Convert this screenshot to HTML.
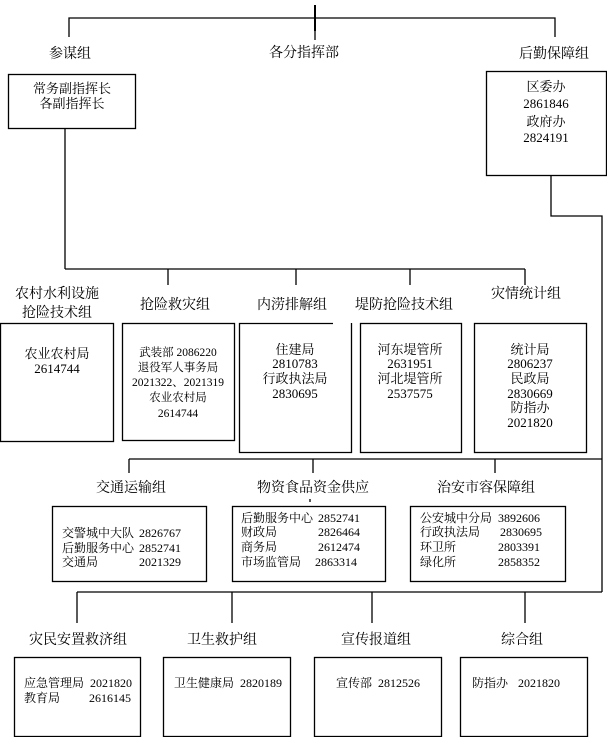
<!DOCTYPE html>
<html><head><meta charset="utf-8"><style>
html,body{margin:0;padding:0;background:#fff;}
svg{display:block;}
text{font-family:"Liberation Serif","Noto Serif CJK SC","Noto Sans CJK SC",serif;fill:#000;}
.l{font-size:14px;text-anchor:middle;}
.b{font-size:13px;text-anchor:middle;}
.s{font-size:12px;}
</style></head><body>
<svg width="607" height="737" viewBox="0 0 607 737" xmlns="http://www.w3.org/2000/svg">
<g stroke="#000" stroke-width="1.3" fill="none">
<line x1="315" y1="5" x2="315" y2="31" stroke-width="2"/>
<line x1="315" y1="31" x2="315" y2="40"/>
<polyline points="69,37 69,18 555,18 555,37"/>
<rect x="8.5" y="74.5" width="127" height="54"/>
<rect x="486.5" y="71.5" width="120" height="104"/>
<line x1="65" y1="128" x2="65" y2="269"/>
<polyline points="551,175 551,216 602,216 602,592"/>
<line x1="65" y1="269" x2="525" y2="269"/>
<line x1="168" y1="269" x2="168" y2="285"/>
<line x1="296" y1="269" x2="296" y2="285"/>
<line x1="410" y1="269" x2="410" y2="285"/>
<line x1="525" y1="269" x2="525" y2="285"/>
<rect x="0.5" y="323.5" width="113" height="118"/>
<rect x="122.5" y="323.5" width="112" height="117"/>
<polyline points="333,323.5 239.5,323.5 239.5,452.5 351.5,452.5 351.5,323"/>
<rect x="360.5" y="323.5" width="101" height="129"/>
<rect x="474.5" y="323.5" width="112" height="129"/>
<line x1="129" y1="459" x2="602" y2="459"/>
<line x1="129" y1="459" x2="129" y2="473"/>
<line x1="313" y1="459" x2="313" y2="473"/>
<line x1="495" y1="459" x2="495" y2="473"/>
<line x1="310" y1="499" x2="310" y2="502"/>
<rect x="52.5" y="506.5" width="154" height="75"/>
<rect x="232.5" y="506.5" width="153" height="75"/>
<rect x="410.5" y="506.5" width="155" height="75"/>
<line x1="77" y1="592" x2="602" y2="592"/>
<line x1="77" y1="592" x2="77" y2="623"/>
<line x1="232" y1="592" x2="232" y2="623"/>
<line x1="372" y1="592" x2="372" y2="623"/>
<line x1="525" y1="592" x2="525" y2="623"/>
<rect x="14.5" y="657.5" width="126" height="79"/>
<rect x="163.5" y="657.5" width="127" height="79"/>
<rect x="314.5" y="657.5" width="127" height="79"/>
<rect x="460.5" y="657.5" width="127" height="79"/>
</g>
<text class="l" x="70" y="58">参谋组</text>
<text class="l" x="304" y="57">各分指挥部</text>
<text class="l" x="554" y="58">后勤保障组</text>
<text class="b" x="72" y="93">常务副指挥长</text>
<text class="b" x="72" y="108">各副指挥长</text>
<text class="b" x="546" y="91">区委办</text>
<text class="b" x="546" y="108">2861846</text>
<text class="b" x="546" y="126">政府办</text>
<text class="b" x="546" y="142">2824191</text>
<text class="l" x="57" y="298">农村水利设施</text>
<text class="l" x="57" y="317">抢险技术组</text>
<text class="l" x="175" y="309">抢险救灾组</text>
<text class="l" x="292" y="309">内涝排解组</text>
<text class="l" x="404" y="309">堤防抢险技术组</text>
<text class="l" x="526" y="298">灾情统计组</text>
<text class="b" x="57" y="358">农业农村局</text>
<text class="b" x="57" y="373">2614744</text>
<g style="font-size:11.5px;text-anchor:middle">
<text x="178" y="356">武装部 2086220</text>
<text x="178" y="371">退役军人事务局</text>
<text x="178" y="386">2021322、2021319</text>
<text x="178" y="401">农业农村局</text>
<text x="178" y="417">2614744</text>
</g>
<text class="b" x="295" y="354">住建局</text>
<text class="b" x="295" y="368">2810783</text>
<text class="b" x="295" y="383">行政执法局</text>
<text class="b" x="295" y="398">2830695</text>
<text class="b" x="410" y="354">河东堤管所</text>
<text class="b" x="410" y="368">2631951</text>
<text class="b" x="410" y="383">河北堤管所</text>
<text class="b" x="410" y="398">2537575</text>
<text class="b" x="530" y="354">统计局</text>
<text class="b" x="530" y="368">2806237</text>
<text class="b" x="530" y="383">民政局</text>
<text class="b" x="530" y="398">2830669</text>
<text class="b" x="530" y="412">防指办</text>
<text class="b" x="530" y="427">2021820</text>
<text class="l" x="131" y="492">交通运输组</text>
<text class="l" x="313" y="492">物资食品资金供应</text>
<text class="l" x="486" y="492">治安市容保障组</text>
<g class="s">
<text x="62" y="537">交警城中大队</text><text x="139" y="537">2826767</text>
<text x="62" y="552">后勤服务中心</text><text x="139" y="552">2852741</text>
<text x="62" y="566">交通局</text><text x="139" y="566">2021329</text>
<text x="241" y="522">后勤服务中心</text><text x="318" y="522">2852741</text>
<text x="241" y="536">财政局</text><text x="318" y="536">2826464</text>
<text x="241" y="551">商务局</text><text x="318" y="551">2612474</text>
<text x="241" y="566">市场监管局</text><text x="315" y="566">2863314</text>
<text x="420" y="522">公安城中分局</text><text x="498" y="522">3892606</text>
<text x="420" y="536">行政执法局</text><text x="500" y="536">2830695</text>
<text x="420" y="551">环卫所</text><text x="498" y="551">2803391</text>
<text x="420" y="566">绿化所</text><text x="498" y="566">2858352</text>
<text x="24" y="687">应急管理局</text><text x="90" y="687">2021820</text>
<text x="24" y="702">教育局</text><text x="89" y="702">2616145</text>
<text x="174" y="687">卫生健康局</text><text x="240" y="687">2820189</text>
<text x="336" y="687">宣传部</text><text x="378" y="687">2812526</text>
<text x="472" y="687">防指办</text><text x="518" y="687">2021820</text>
</g>
<text class="l" x="78" y="644">灾民安置救济组</text>
<text class="l" x="222" y="644">卫生救护组</text>
<text class="l" x="376" y="644">宣传报道组</text>
<text class="l" x="522" y="644">综合组</text>
</svg>
</body></html>
